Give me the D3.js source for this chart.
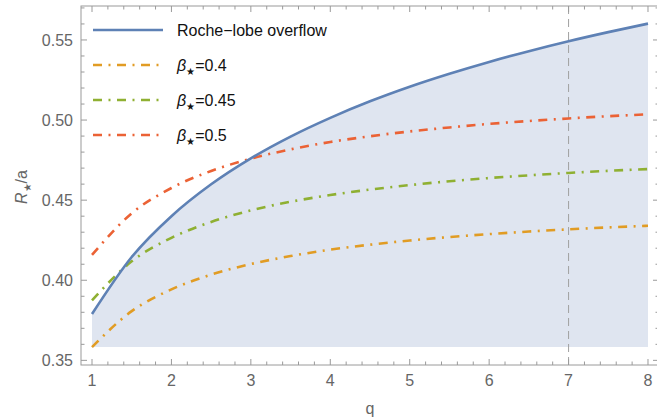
<!DOCTYPE html>
<html>
<head>
<meta charset="utf-8">
<script src="https://cdn.jsdelivr.net/npm/d3@7"></script>
<style>
  body { margin: 0; background: #fff; }
  text { font-family: 'Liberation Sans', Arial, sans-serif; }
</style>
</head>
<body>
<svg id="chart" width="657" height="418"></svg>
<script>
// values
const qValues = [1, 1.5, 2, 2.5, 3, 3.5, 4, 4.5, 5, 5.5, 6, 6.5, 7, 7.5, 8]
const rocheLobe = [0.3789, 0.4145, 0.4400, 0.4599, 0.4761, 0.4897, 0.5014, 0.5117, 0.5208, 0.5289, 0.5363, 0.5430, 0.5492, 0.5549, 0.5602]
const beta04 = [0.3583, 0.3807, 0.3943, 0.4035, 0.4101, 0.4151, 0.4191, 0.4222, 0.4248, 0.4270, 0.4288, 0.4304, 0.4318, 0.4330, 0.4340]
const beta045 = [0.3875, 0.4118, 0.4265, 0.4364, 0.4436, 0.4490, 0.4532, 0.4566, 0.4594, 0.4618, 0.4638, 0.4655, 0.4670, 0.4683, 0.4694]
const beta05 = [0.4158, 0.4418, 0.4576, 0.4682, 0.4759, 0.4817, 0.4863, 0.4899, 0.4929, 0.4954, 0.4976, 0.4994, 0.5010, 0.5024, 0.5036]
const fillFloor = 0.3583
const markerQ = 7
const xTicks = [1, 2, 3, 4, 5, 6, 7, 8]
const yTicks = [0.35, 0.40, 0.45, 0.50, 0.55]

const legendItems = [
  { label: 'Roche−lobe overflow', color: '#5e81b5', dashed: false },
  { label: '0.4', color: '#e19c24', dashed: true, beta: true },
  { label: '0.45', color: '#8fb032', dashed: true, beta: true },
  { label: '0.5', color: '#eb6235', dashed: true, beta: true }
]

const svg = d3.select('#chart')

const frame = { left: 81, right: 659, top: 6, bottom: 365 }

const xScale = d3.scaleLinear()
  .domain([0.8615, 8.1385])
  .range([frame.left, frame.right])

const yScale = d3.scaleLinear()
  .domain([0.3471, 0.5712])
  .range([frame.bottom, frame.top])

const rows = (ys) => qValues.map((q, i) => ({ q: q, v: ys[i] }))

// shaded region under the roche curve
const area = d3.area()
  .x(d => xScale(d.q))
  .y0(yScale(fillFloor))
  .y1(d => yScale(d.v))
  .curve(d3.curveMonotoneX)

svg.append('path')
  .datum(rows(rocheLobe))
  .attr('d', area)
  .attr('fill', '#dfe5f0')

// dashed vertical line at q = 7
svg.append('line')
  .attr('x1', xScale(markerQ))
  .attr('x2', xScale(markerQ))
  .attr('y1', frame.top)
  .attr('y2', frame.bottom)
  .attr('stroke', '#a0a0a0')
  .attr('stroke-width', 1)
  .attr('stroke-dasharray', '8,5')

const line = d3.line()
  .x(d => xScale(d.q))
  .y(d => yScale(d.v))
  .curve(d3.curveMonotoneX)

const dotDash = '9,6.5,2,6.5'

const series = [
  { data: beta04, color: '#e19c24', dash: dotDash },
  { data: beta045, color: '#8fb032', dash: dotDash },
  { data: beta05, color: '#eb6235', dash: dotDash },
  { data: rocheLobe, color: '#5e81b5', dash: null }
]

svg.append('g')
  .selectAll('path')
  .data(series)
  .enter()
  .append('path')
  .attr('d', d => line(rows(d.data)))
  .attr('fill', 'none')
  .attr('stroke', d => d.color)
  .attr('stroke-width', 2.6)
  .attr('stroke-dasharray', d => d.dash)

// frame + ticks (mathematica style, ticks point inward)
const axisColor = '#9a9a9a'
const g = svg.append('g')

g.append('rect')
  .attr('x', frame.left)
  .attr('y', frame.top)
  .attr('width', frame.right - frame.left)
  .attr('height', frame.bottom - frame.top)
  .attr('fill', 'none')
  .attr('stroke', axisColor)
  .attr('stroke-width', 1)

const xMinor = d3.range(1, 8.01, 0.2).filter(v => Math.abs(v - Math.round(v)) > 1e-6)
const yMinor = d3.range(0.35, 0.5701, 0.01).filter(v => Math.abs(v * 20 - Math.round(v * 20)) > 1e-6)

const xTickData = xTicks.map(v => ({ v: v, len: 6 })).concat(xMinor.map(v => ({ v: v, len: 3.5 })))
const yTickData = yTicks.map(v => ({ v: v, len: 6 })).concat(yMinor.map(v => ({ v: v, len: 3.5 })))

g.selectAll('.xt-bottom')
  .data(xTickData)
  .enter()
  .append('line')
  .attr('x1', d => xScale(d.v))
  .attr('x2', d => xScale(d.v))
  .attr('y1', frame.bottom)
  .attr('y2', d => frame.bottom - d.len)
  .attr('stroke', axisColor)

g.selectAll('.xt-top')
  .data(xTickData)
  .enter()
  .append('line')
  .attr('x1', d => xScale(d.v))
  .attr('x2', d => xScale(d.v))
  .attr('y1', frame.top)
  .attr('y2', d => frame.top + d.len)
  .attr('stroke', axisColor)

g.selectAll('.yt-left')
  .data(yTickData)
  .enter()
  .append('line')
  .attr('x1', frame.left)
  .attr('x2', d => frame.left + d.len)
  .attr('y1', d => yScale(d.v))
  .attr('y2', d => yScale(d.v))
  .attr('stroke', axisColor)

g.selectAll('.yt-right')
  .data(yTickData)
  .enter()
  .append('line')
  .attr('x1', frame.right)
  .attr('x2', d => frame.right - d.len)
  .attr('y1', d => yScale(d.v))
  .attr('y2', d => yScale(d.v))
  .attr('stroke', axisColor)

// tick labels
g.selectAll('.xl')
  .data(xTicks)
  .enter()
  .append('text')
  .attr('x', d => xScale(d))
  .attr('y', 386)
  .attr('text-anchor', 'middle')
  .attr('font-size', 16)
  .attr('fill', '#666')
  .text(d => d)

g.selectAll('.yl')
  .data(yTicks)
  .enter()
  .append('text')
  .attr('x', 73)
  .attr('y', d => yScale(d) + 6)
  .attr('text-anchor', 'end')
  .attr('font-size', 16)
  .attr('fill', '#666')
  .text(d => d.toFixed(2))

// axis titles
svg.append('text')
  .attr('x', xScale(4.5))
  .attr('y', 414)
  .attr('text-anchor', 'middle')
  .attr('font-size', 16)
  .attr('fill', '#666')
  .text('q')

const yTitle = svg.append('text')
  .attr('transform', 'translate(27, 187) rotate(-90)')
  .attr('text-anchor', 'middle')
  .attr('font-size', 16)
  .attr('fill', '#666')
yTitle.append('tspan').attr('font-style', 'italic').text('R')
yTitle.append('tspan').attr('font-size', 10).attr('dy', 4).text('★')
yTitle.append('tspan').attr('dy', -4).text('/a')

// legend
const legend = svg.append('g')
const rowY = [30, 65, 100, 135]

legendItems.forEach((item, i) => {
  legend.append('line')
    .attr('x1', 93)
    .attr('x2', 163)
    .attr('y1', rowY[i])
    .attr('y2', rowY[i])
    .attr('stroke', item.color)
    .attr('stroke-width', 2.6)
    .attr('stroke-dasharray', item.dashed ? dotDash : null)

  const t = legend.append('text')
    .attr('x', 177)
    .attr('y', rowY[i] + 6)
    .attr('font-size', 16)
    .attr('fill', '#111')

  if (item.beta) {
    t.append('tspan').attr('font-style', 'italic').text('β')
    t.append('tspan').attr('font-size', 10).attr('dy', 4).text('★')
    t.append('tspan').attr('dy', -4).text('=' + item.label)
  } else {
    t.text(item.label)
  }
})
</script>
</body>
</html>
